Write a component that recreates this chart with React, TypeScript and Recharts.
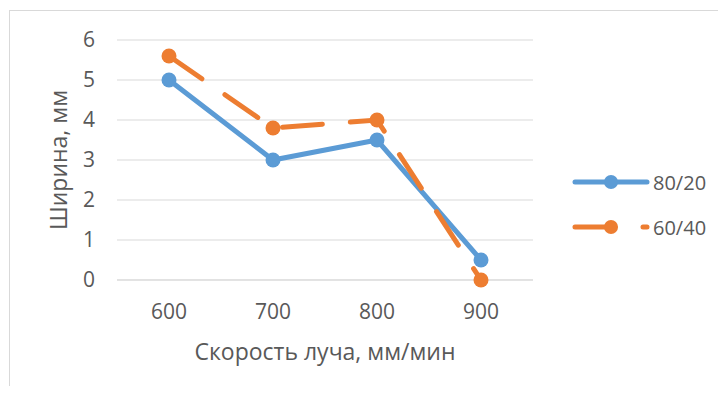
import React from 'react'
import { LineChart, Line, XAxis, YAxis, CartesianGrid, Label } from 'recharts'

const speeds = ['600', '700', '800', '900']
const width8020 = [5, 3, 3.5, 0.5]
const width6040 = [5.6, 3.8, 4.0, 0]
const yTicks = [0, 1, 2, 3, 4, 5, 6]

const BLUE = '#5B9BD5'
const ORANGE = '#ED7D31'
const TEXT = '#595959'
const GRID = '#D9D9D9'
const FONT = '"Open Sans", "Liberation Sans", sans-serif'

const series = [
  { key: 's8020', name: '80/20', color: BLUE, values: width8020, dash: undefined as string | undefined },
  { key: 's6040', name: '60/40', color: ORANGE, values: width6040, dash: '40 28' },
]

const chartData = speeds.map((s, i) => {
  const row: Record<string, string | number> = { speed: s }
  series.forEach((ser) => {
    row[ser.key] = ser.values[i]
  })
  return row
})

function XTitle(props: any) {
  const vb = props.viewBox || {}
  return (
    <text x={vb.x + vb.width / 2} y={360} textAnchor="middle" fontSize={23} fill={TEXT} fontFamily={FONT}>
      Скорость луча, мм/мин
    </text>
  )
}

function YTitle(props: any) {
  const vb = props.viewBox || {}
  const cy = vb.y + vb.height / 2
  return (
    <text
      x={58}
      y={cy}
      transform={`rotate(-90 58 ${cy})`}
      textAnchor="middle"
      dominantBaseline="central"
      fontSize={23}
      fill={TEXT}
      fontFamily={FONT}
    >
      Ширина, мм
    </text>
  )
}

function ChartLegend() {
  return (
    <svg width={160} height={100} style={{ position: 'absolute', left: 560, top: 150 }}>
      {series.map((ser, i) => {
        const y = 32 + i * 45
        return (
          <g key={ser.key}>
            <line
              x1={15}
              x2={87}
              y1={y}
              y2={y}
              stroke={ser.color}
              strokeWidth={5}
              strokeLinecap="round"
              strokeDasharray={ser.dash}
            />
            <circle cx={51} cy={y} r={7} fill={ser.color} />
            <text x={93} y={y} dominantBaseline="central" fontSize={20} fill={TEXT} fontFamily={FONT}>
              {ser.name}
            </text>
          </g>
        )
      })}
    </svg>
  )
}

export default function App() {
  return (
    <div style={{ position: 'relative', width: 726, height: 394, margin: -8, background: '#fff', overflow: 'hidden' }}>
      <div
        style={{
          position: 'absolute',
          left: 9,
          top: 10,
          width: 760,
          height: 420,
          border: `1px solid ${GRID}`,
          boxSizing: 'border-box',
        }}
      />
      <div style={{ position: 'absolute', left: 0, top: 0 }}>
        <LineChart width={726} height={394} data={chartData} margin={{ top: 40, right: 193, bottom: 24, left: 60 }}>
          <CartesianGrid vertical={false} stroke={GRID} strokeWidth={1} />
          <XAxis
            dataKey="speed"
            height={90}
            padding={{ left: 52, right: 52 }}
            tickLine={false}
            axisLine={{ stroke: GRID }}
            tickSize={0}
            tickMargin={24}
            tick={{ fontSize: 21, fill: TEXT, fontFamily: FONT }}
          >
            <Label content={<XTitle />} />
          </XAxis>
          <YAxis
            width={57}
            domain={[0, 6]}
            ticks={yTicks}
            tickLine={false}
            axisLine={false}
            tickSize={0}
            tickMargin={22}
            tick={{ fontSize: 21, fill: TEXT, fontFamily: FONT }}
          >
            <Label content={<YTitle />} />
          </YAxis>
          {series.map((ser) => (
            <Line
              key={ser.key}
              type="linear"
              dataKey={ser.key}
              name={ser.name}
              stroke={ser.color}
              strokeWidth={5}
              strokeLinecap="round"
              strokeDasharray={ser.dash}
              dot={{ r: 7.5, fill: ser.color, stroke: ser.color, strokeWidth: 0 }}
              activeDot={false}
              isAnimationActive={false}
            />
          ))}
        </LineChart>
      </div>
      <ChartLegend />
    </div>
  )
}
